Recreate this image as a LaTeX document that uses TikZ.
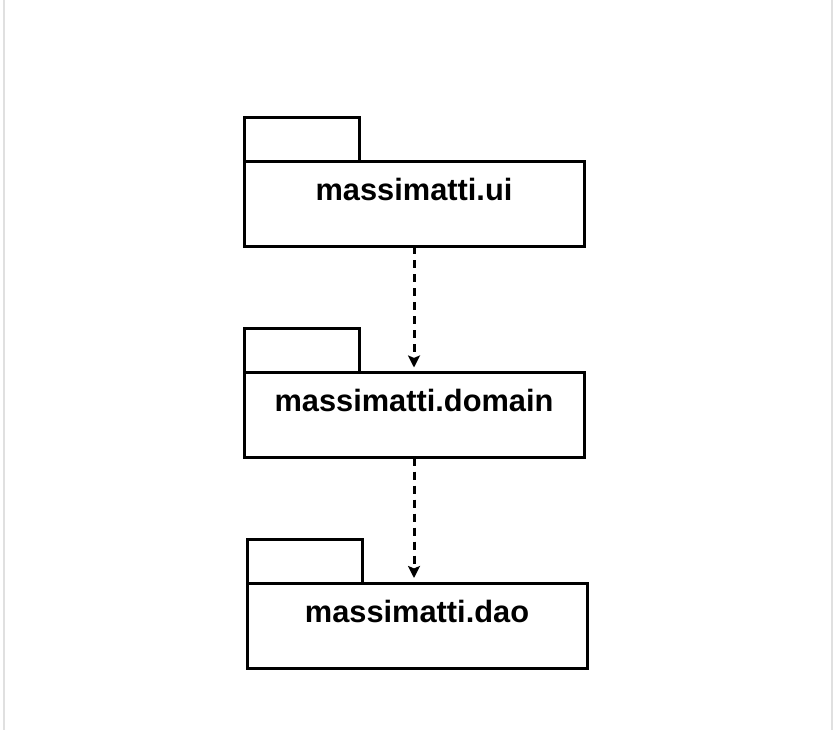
\documentclass[tikz,border=0pt]{standalone}
\usepackage{fontspec}
\setmainfont{Liberation Sans}
\usetikzlibrary{positioning,arrows.meta}

\begin{document}
\begin{tikzpicture}[x=0.5pt, y=-0.5pt,
    pkgbody/.style={draw, line width=1.5pt, minimum width=170pt, minimum height=42.5pt, inner sep=0pt, outer sep=0pt},
    pkgtab/.style={draw, line width=1.5pt, minimum width=57.5pt, minimum height=22pt, inner sep=0pt, outer sep=0pt, anchor=south west},
    pkgname/.style={anchor=base, inner sep=0pt, font=\bfseries\fontsize{15.4}{18}\selectfont},
    depends/.style={line width=1.5pt, dash pattern=on 4pt off 3pt, -{Stealth[length=6pt, width=6pt, inset=1.2pt]}, shorten >=2.5pt}]
  \useasboundingbox (0,0) rectangle (836,730);
  \draw[black!12, line width=1pt] (4,0) -- (4,730) (832,0) -- (832,730);

  \node[pkgbody] (ui) at (414,203.5) {};
  \node[pkgtab] (uitab) at (ui.north west) {};
  \node[pkgname] (uiname) at ([yshift=-19.5pt]ui.north) {massimatti.ui};

  \node[pkgbody] (domain) at (414,415) {};
  \node[pkgtab] (domaintab) at (domain.north west) {};
  \node[pkgname] (domainname) at ([yshift=-19.5pt]domain.north) {massimatti.domain};

  \node[pkgbody] (dao) at (417,625.5) {};
  \node[pkgtab] (daotab) at (dao.north west) {};
  \node[pkgname] (daoname) at ([yshift=-19.5pt]dao.north) {massimatti.dao};

  \draw[depends] (ui.south) -- (domain.north);
  \draw[depends] (domain.south) -- (domain.south |- dao.north);
\end{tikzpicture}
\end{document}
